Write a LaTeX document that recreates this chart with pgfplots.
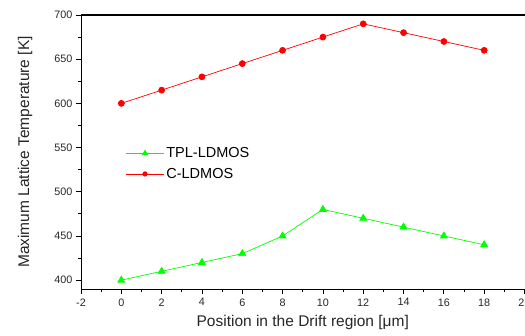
\documentclass[border=0pt]{standalone}
\usepackage{pgfplots}
\pgfplotsset{compat=1.18}
\usepackage{fontspec}
\setmainfont{Liberation Sans}
\begin{document}
\begin{tikzpicture}[x=1pt,y=1pt]
\useasboundingbox (0,0) rectangle (525,336);
\begin{axis}[
  at={(81pt,47pt)}, anchor=south west,
  width=443.5pt, height=274pt, scale only axis,
  xmin=-2, xmax=20, ymin=390, ymax=700,
  xtick={-2,0,...,20}, ytick={400,450,...,700},
  minor x tick num=1, minor y tick num=1,
  axis x line*=bottom, axis y line*=left,
  tick align=outside,
  major tick length=5pt, minor tick length=3pt,
  tick style={black, line width=0.8pt},
  axis line style={line width=0.9pt},
  /pgf/number format/assume math mode=true,
  ticklabel style={font=\fontsize{10.8}{12}\selectfont, text=black!85},
  xticklabel style={yshift=-1pt},
  xlabel={Position in the Drift region [μm]},
  ylabel={Maximum Lattice Temperature [K]},
  label style={font=\fontsize{15.5}{17}\selectfont, text=black!85},
  xlabel style={at={(axis description cs:0.5,-0.124)}, anchor=center},
  ylabel style={at={(axis description cs:-0.126,0.5)}, anchor=center, rotate=0},
  legend style={draw=none, fill=none, at={(axis description cs:0.098,0.528)}, anchor=north west,
    font=\fontsize{14.5}{16}\selectfont, row sep=5pt, inner sep=1pt},
  legend cell align=left,
  legend image code/.code={\draw[mark repeat=2,mark phase=2, mark options={scale=0.75}] plot coordinates {(0pt,0pt) (19pt,0pt) (38pt,0pt)};},
  clip=false,
]
\addplot[color={rgb,255:red,0;green,255;blue,0}, line width=0.7pt, mark=triangle*, mark size=4pt,
  mark options={fill={rgb,255:red,0;green,255;blue,0}, draw={rgb,255:red,0;green,255;blue,0}}]
  coordinates {(0,400) (2,410) (4,420) (6,430) (8,450) (10,480) (12,470) (14,460) (16,450) (18,440)};
\addlegendentry{TPL-LDMOS}
\addplot[color={rgb,255:red,255;green,0;blue,0}, line width=0.7pt, mark=*, mark size=3pt,
  mark options={fill={rgb,255:red,255;green,0;blue,0}}]
  coordinates {(0,600) (2,615) (4,630) (6,645) (8,660) (10,675) (12,690) (14,680) (16,670) (18,660)};
\addlegendentry{C-LDMOS}
\draw[line width=1.1pt] (axis cs:-2,700) -- (axis cs:20,700);
\end{axis}
\end{tikzpicture}
\end{document}
